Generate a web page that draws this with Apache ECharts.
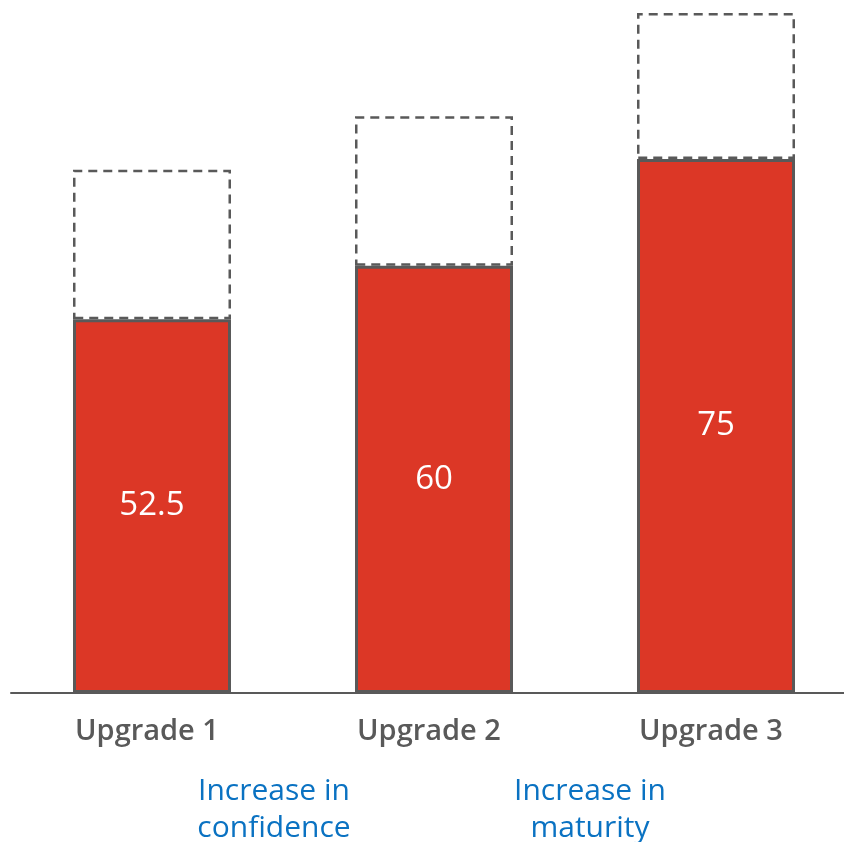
<!DOCTYPE html>
<html>
<head>
<meta charset="utf-8">
<script src="https://cdn.jsdelivr.net/npm/echarts@6/dist/echarts.min.js"></script>
<style>
html,body{margin:0;padding:0;background:#fff;}
#chart{width:844px;height:842px;}
</style>
</head>
<body>
<div id="chart"></div>
<script>
var categories = ['Upgrade 1', 'Upgrade 2', 'Upgrade 3'];
var values = [52.5, 60, 75];
var upsideRange = [21, 21, 20.5];
var notes = ['Increase in\nconfidence', 'Increase in\nmaturity'];

var chart = echarts.init(document.getElementById('chart'));
var FONT = '"Open Sans", "Liberation Sans", sans-serif';

chart.setOption({
  animation: false,
  backgroundColor: '#ffffff',
  grid: { left: 11, width: 846, top: 13, bottom: 149, outerBoundsMode: 'none', containLabel: false },
  xAxis: {
    type: 'category',
    data: categories,
    axisLine: { show: true, lineStyle: { color: '#595959', width: 2 } },
    axisTick: { show: false },
    axisLabel: {
      color: '#595959',
      fontFamily: FONT,
      fontSize: 29,
      fontWeight: 600,
      margin: 24,
      padding: [0, 10, 0, 0]
    }
  },
  yAxis: {
    type: 'value',
    min: 0,
    max: 95.5,
    show: false,
    splitLine: { show: false }
  },
  series: [
    {
      type: 'bar',
      stack: 'total',
      barWidth: 158,
      data: values,
      itemStyle: { color: '#dc3726', borderColor: '#595959', borderWidth: 3 },
      label: {
        show: true,
        position: 'inside',
        color: '#ffffff',
        fontFamily: FONT,
        fontSize: 33,
        formatter: function (p) { return String(p.value); }
      },
      z: 3
    },
    {
      type: 'bar',
      stack: 'total',
      barWidth: 158,
      data: upsideRange,
      itemStyle: {
        color: 'rgba(255,255,255,0)',
        borderColor: '#595959',
        borderWidth: 2.5,
        borderType: [9, 6]
      },
      z: 2
    }
  ],
  graphic: [
    {
      type: 'text',
      left: 274 - 90, top: 773,
      style: {
        text: notes[0], fill: '#0a72c2', font: '30px ' + FONT,
        textAlign: 'center', width: 180, lineHeight: 37, x: 90
      }
    },
    {
      type: 'text',
      left: 590 - 90, top: 773,
      style: {
        text: notes[1], fill: '#0a72c2', font: '30px ' + FONT,
        textAlign: 'center', width: 180, lineHeight: 37, x: 90
      }
    }
  ]
});
</script>
</body>
</html>
